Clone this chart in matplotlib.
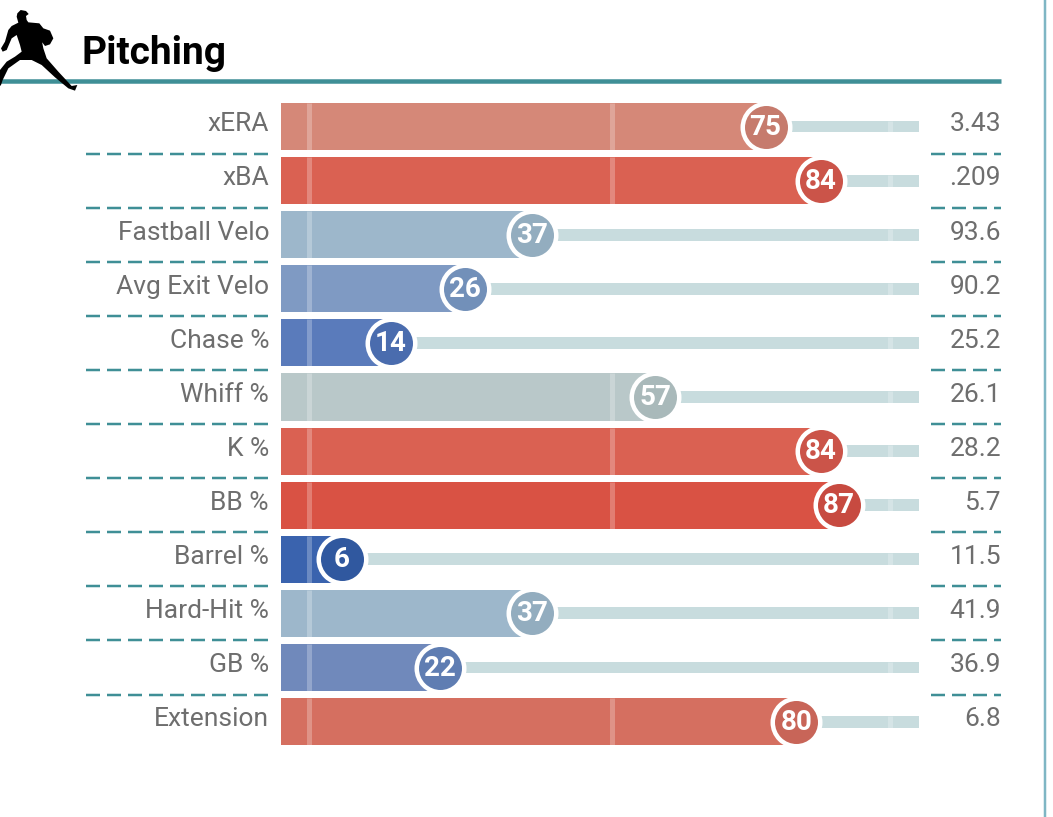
import matplotlib
matplotlib.use('Agg')
import matplotlib.pyplot as plt
from matplotlib.patches import Polygon

metrics = ['xERA', 'xBA', 'Fastball Velo', 'Avg Exit Velo', 'Chase %', 'Whiff %',
           'K %', 'BB %', 'Barrel %', 'Hard-Hit %', 'GB %', 'Extension']
percentiles = [75, 84, 37, 26, 14, 57, 84, 87, 6, 37, 22, 80]
stat_values = ['3.43', '.209', '93.6', '90.2', '25.2', '26.1', '28.2', '5.7', '11.5', '41.9', '36.9', '6.8']
bar_colors = ['#d58878', '#da6152', '#9db7cb', '#7f9ac3', '#5a7bbb', '#b9c8c9',
              '#da6152', '#d95244', '#3a63ae', '#9db7cb', '#7089bb', '#d56f60']
dot_colors = ['#c67b6d', '#cb5449', '#93adbf', '#7290b9', '#4a6cae', '#a9b9ba',
              '#cb5449', '#c74a40', '#30589f', '#93adbf', '#5f7db2', '#c86558']
guides = [0.65, 50, 95.3]

TEAL = '#3f8f96'
TRACK = '#c8dcde'
GREY = '#6e6e6e'
W, H = 1053, 817
X0, PX_PER_PCT = 305, 6.14
Y0, PX_PER_ROW = 126.5, 54.1

plt.rcParams['font.family'] = ['Liberation Sans Narrow', 'Roboto', 'DejaVu Sans']


def pt(px):
    return px * 0.72


def px_x(px):
    return (px - X0) / PX_PER_PCT


fig = plt.figure(figsize=(W / 100, H / 100), dpi=100)

# pixel axes for the header furniture
deco = fig.add_axes([0, 0, 1, 1])
deco.set_xlim(0, W)
deco.set_ylim(H, 0)
deco.axis('off')
deco.plot([0, 1001], [81, 81], color=TEAL, lw=pt(4.5), solid_capstyle='butt')
deco.plot([1045, 1045], [0, H], color='#7fb6c4', lw=pt(2.5))
pitcher = [(52, 40), (62, 30), (78, 33), (86, 42), (78, 48), (80, 60), (85, 67), (118, 70),
           (130, 85), (150, 92), (160, 115), (150, 133), (135, 138), (125, 125), (122, 105),
           (130, 145), (140, 175), (175, 215), (215, 258), (232, 255), (225, 272), (205, 265),
           (165, 232), (125, 195), (95, 180), (60, 180), (25, 205), (8, 240), (3, 255), (0, 258),
           (0, 210), (20, 185), (45, 170), (65, 155), (60, 135), (50, 105), (35, 115), (20, 150),
           (8, 155), (3, 145), (15, 125), (25, 90), (35, 78), (55, 68), (50, 50)]
deco.add_patch(Polygon([(x / 3, y / 3) for x, y in pitcher], color='black', lw=0, zorder=5))
deco.text(81, 53, 'Pitching', fontsize=28, fontweight='bold', color='black', va='center', ha='left')

# main axes: x is percentile, y is row number
ax = fig.add_axes([0, 0, 1, 1])
ax.patch.set_alpha(0)
ax.set_xlim(-X0 / PX_PER_PCT, (W - X0) / PX_PER_PCT)
ax.set_ylim((H - Y0) / PX_PER_ROW, -Y0 / PX_PER_ROW)
ax.axis('off')

bar_start = px_x(281)
for i, (name, pct, val) in enumerate(zip(metrics, percentiles, stat_values)):
    ax.barh(i, 100 - pct, left=pct, height=0.22, color=TRACK, zorder=1)
    ax.barh(i, pct - bar_start, left=bar_start, height=0.87, color=bar_colors[i], zorder=2)
    for g in guides:
        if g < pct:
            ax.plot([g, g], [i - 0.435, i + 0.435], color='white', alpha=0.25, lw=pt(5),
                    solid_capstyle='butt', zorder=3)
        elif g > 60:
            ax.plot([g, g], [i - 0.11, i + 0.11], color='white', alpha=0.25, lw=pt(5),
                    solid_capstyle='butt', zorder=3)
    ax.scatter(pct, i, s=pt(52) ** 2, color='white', lw=0, zorder=4)
    ax.scatter(pct, i, s=pt(43) ** 2, color=dot_colors[i], lw=0, zorder=5)
    ax.text(pct, i + 0.01, str(pct), color='white', fontsize=20, fontweight='bold',
            ha='center', va='center', zorder=6)
    ax.text(px_x(269), i - 0.04, name, color=GREY, fontsize=19, ha='right', va='center')
    ax.text(px_x(1001), i - 0.04, val, color=GREY, fontsize=19, ha='right', va='center')
    if i < len(metrics) - 1:
        for x1, x2 in [(86, 269), (931, 1001)]:
            ax.plot([px_x(x1), px_x(x2)], [i + 0.5, i + 0.5], color=TEAL, lw=pt(2.5),
                    linestyle=(0, (14 / 2.5, 7 / 2.5)), dash_capstyle='butt', zorder=1)

fig.savefig('out.png', dpi=100, facecolor='white')
